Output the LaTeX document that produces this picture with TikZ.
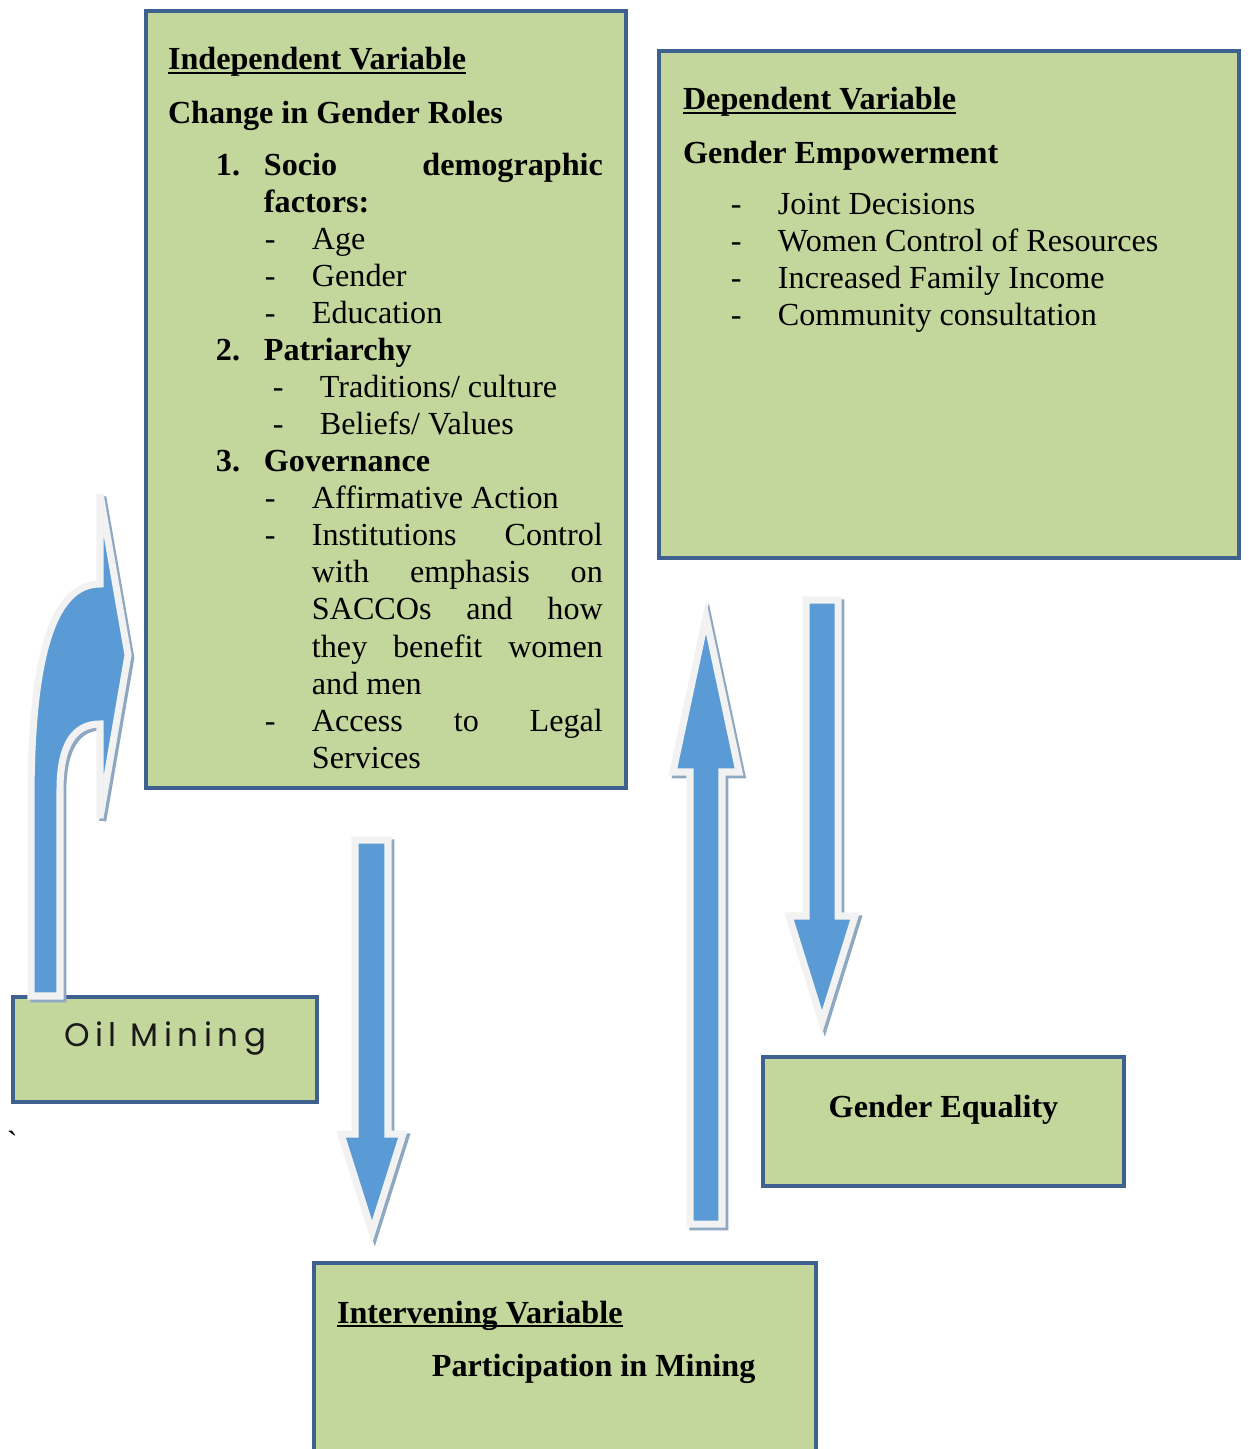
\documentclass[tikz,border=0pt]{standalone}
\usepackage{fontspec}
\setmainfont{Liberation Serif}
\newfontfamily\oilfont[LetterSpace=17]{Poppins}
\usepackage{tikz}
\newdimen\pxu
\pxu=0.569pt
\definecolor{boxfill}{HTML}{C3D69B}
\definecolor{boxrim}{HTML}{3F6190}
\definecolor{arrowblue}{HTML}{5B9BD5}
\definecolor{arrowrim}{HTML}{F2F2F2}
\definecolor{arrowshade}{HTML}{8FA8C2}
\newcommand{\ulhead}[1]{\textbf{\setbox0\hbox{#1}\rlap{\rule[-2.4pt]{\wd0}{1.1pt}}\box0}}
\newcommand{\dashitem}[3]{\hspace*{#1\pxu}\makebox[47\pxu][l]{-}#3}
\tikzset{
  box/.style={draw=boxrim, fill=boxfill, line width=2.5pt, inner sep=0pt, outer sep=0pt},
  txt/.style={inner sep=0pt, outer sep=0pt, font=\fontsize{18.3}{21.1}\selectfont},
  barrow/.style={fill=arrowblue, draw=arrowrim, line width=4pt, line join=miter, miter limit=#1,
    preaction={draw=arrowshade, line width=4pt, line join=miter, miter limit=#1, transform canvas={xshift=1.6pt, yshift=-1.6pt}}},
  barrow/.default=20
}
\begin{document}
\begin{tikzpicture}[x=0.02cm, y=-0.02cm]
\useasboundingbox (0,0) rectangle (1248,1449);
\clip (0,0) rectangle (1248,1449);

\node[box, minimum width=9.6cm, minimum height=15.54cm] (indep) at (386,399.5) {};
\node[box, minimum width=11.6cm, minimum height=10.14cm] (dep) at (949,304.5) {};
\node[box, minimum width=6.08cm, minimum height=2.1cm] (oil) at (165,1049.5) {};
\node[box, minimum width=7.22cm, minimum height=2.58cm] (equal) at (943.5,1121.5) {};
\node[box, minimum width=10.04cm, minimum height=4.74cm] (inter) at (565,1381.5) {};

\node[txt, anchor=base west] (indeptext) at (168,70) {\begin{minipage}[t]{435\pxu}
\setlength{\parindent}{0pt}\setlength{\parskip}{0pt}
\ulhead{Independent Variable}\par\vspace{16\pxu}
\textbf{Change in Gender Roles}\par\vspace{15\pxu}
\hspace*{48\pxu}\makebox[48\pxu][l]{\textbf{1.}}\textbf{Socio}\hfill\textbf{demographic}\par
\hspace*{96\pxu}\textbf{factors:}\par
\dashitem{97}{}{Age}\par
\dashitem{97}{}{Gender}\par
\dashitem{97}{}{Education}\par
\hspace*{48\pxu}\makebox[48\pxu][l]{\textbf{2.}}\textbf{Patriarchy}\par
\dashitem{105}{}{Traditions/ culture}\par
\dashitem{105}{}{Beliefs/ Values}\par
\hspace*{48\pxu}\makebox[48\pxu][l]{\textbf{3.}}\textbf{Governance}\par
\dashitem{97}{}{Affirmative Action}\par
\dashitem{97}{}{Institutions\hfill Control}\par
\hspace*{144\pxu}with\hfill emphasis\hfill on\par
\hspace*{144\pxu}SACCOs\hfill and\hfill how\par
\hspace*{144\pxu}they\hfill benefit\hfill women\par
\hspace*{144\pxu}and men\par
\dashitem{97}{}{Access\hfill to\hfill Legal}\par
\hspace*{144\pxu}Services
\end{minipage}};

\node[txt, anchor=base west] (deptext) at (683,110) {\begin{minipage}[t]{540\pxu}
\setlength{\parindent}{0pt}\setlength{\parskip}{0pt}
\ulhead{Dependent Variable}\par\vspace{16\pxu}
\textbf{Gender Empowerment}\par\vspace{14\pxu}
\dashitem{48}{}{Joint Decisions}\par
\dashitem{48}{}{Women Control of Resources}\par
\dashitem{48}{}{Increased Family Income}\par
\dashitem{48}{}{Community consultation}
\end{minipage}};

\node[txt, anchor=base west] (intertext) at (337,1323) {\begin{minipage}[t]{460\pxu}
\setlength{\parindent}{0pt}\setlength{\parskip}{0pt}
\ulhead{Intervening Variable}\par\vspace{16\pxu}
\hspace*{95\pxu}\textbf{Participation in Mining}
\end{minipage}};

\node[txt, anchor=base] (equaltext) at (943.5,1117) {\textbf{Gender Equality}};
\node[anchor=base, inner sep=0pt, font=\oilfont\fontsize{18.5}{21}\selectfont, text=black!90] (oiltext) at (165,1046) {Oil Mining};
\node[txt, anchor=base west] (tick) at (7,1153) {\textasciigrave};

\draw[barrow=8] (31,996) -- (31,800) .. controls (31,650) and (55,584) .. (100,584) -- (100,494) -- (128,655) -- (100,818) -- (100,724) .. controls (74,724) and (60,745) .. (60,790) -- (60,996) -- cycle;
\draw[barrow] (355,840) -- (388,840) -- (388,1134) -- (403,1134) -- (372,1232) -- (341,1134) -- (355,1134) -- cycle;
\draw[barrow] (690,1224) -- (722,1224) -- (722,772) -- (739,772) -- (706,617) -- (673,772) -- (690,772) -- cycle;
\draw[barrow] (806,600) -- (838,600) -- (838,916) -- (855,916) -- (822,1022) -- (789,916) -- (806,916) -- cycle;
\end{tikzpicture}
\end{document}
